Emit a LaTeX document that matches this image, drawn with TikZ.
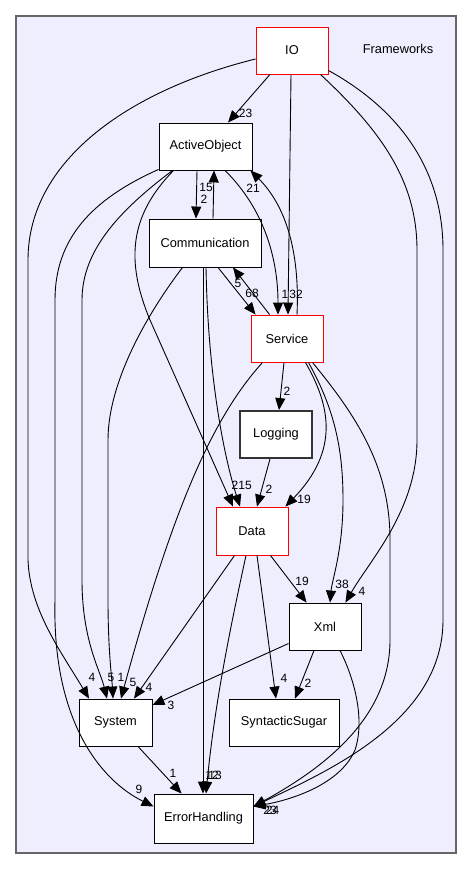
\documentclass[tikz,border=0pt]{standalone}
\usepackage{fontspec}
\setmainfont{Liberation Sans}
\usetikzlibrary{arrows.meta}
\definecolor{dirfill}{HTML}{EEEEFF}
\definecolor{dirline}{HTML}{666666}
\definecolor{dirred}{HTML}{FF0000}
\tikzset{
    dirbox/.style={draw=black,fill=white,line width=0.9pt,minimum width=72pt,minimum height=47pt,inner sep=0pt,font=\fontsize{12.8}{14}\selectfont},
    reddir/.style={dirbox,draw=dirred},
    dep/.style={line width=0.9pt,-{Triangle[length=12pt,width=10pt]}},
    cnt/.style={inner sep=0pt,font=\fontsize{12}{13}\selectfont},
}

\begin{document}
\begin{tikzpicture}[x=1pt,y=-1pt]
        \useasboundingbox[fill=white] (0,0) rectangle (472,869);
        \draw[dirline,fill=dirfill,line width=1.6pt] (16,16) rectangle (456,853);
        \node[inner sep=0pt,font=\fontsize{12.8}{14}\selectfont] (fw) at (398,49) {Frameworks};

        \node[reddir] (io) at (292,50.5) {IO};
        \node[dirbox,minimum width=93pt] (ao) at (205.5,146.5) {ActiveObject};
        \node[dirbox,minimum width=112pt,minimum height=48pt] (comm) at (205,243) {Communication};
        \node[reddir] (service) at (287,338.5) {Service};
        \node[dirbox,line width=1.8pt,draw=black!80] (logging) at (276,434.5) {Logging};
        \node[reddir,minimum height=48pt] (data) at (252,531) {Data};
        \node[dirbox] (xml) at (325,626.5) {Xml};
        \node[dirbox,minimum width=73pt] (system) at (115.5,722.5) {System};
        \node[dirbox,minimum width=110pt] (sugar) at (284,722.5) {SyntacticSugar};
        \node[dirbox,minimum width=99pt,minimum height=49pt] (eh) at (203.5,818.5) {ErrorHandling};

        \draw[dep] ([xshift=-22pt]io.south) -- ([xshift=22.5pt]ao.north);
        \draw[dep] ([yshift=-8.5pt]io.west) .. controls (130,90) and (28,160) .. (28,260) -- (28,560) .. controls (30,610) and (60,650) .. ([xshift=-26.5pt]system.north);
        \draw[dep] ([xshift=-1pt]io.south) -- ([xshift=1pt]service.north);
        \draw[dep] ([xshift=-8pt]io.south east) .. controls (380,130) and (417,180) .. (417,250) -- (417,440) .. controls (417,510) and (370,560) .. ([xshift=-16pt]xml.north east);
        \draw[dep] ([yshift=4pt]io.south east) .. controls (400,110) and (443,170) .. (443,250) -- (443,620) .. controls (443,720) and (330,770) .. ([yshift=12pt]eh.east);

        \draw[dep] ([xshift=-8.5pt]ao.south) -- ([xshift=-9pt]comm.north);
        \draw[dep] ([xshift=8pt]comm.north) -- ([xshift=8.5pt]ao.south);
        \draw[dep] ([yshift=1pt]ao.south west) .. controls (90,200) and (55,240) .. (55,300) -- (55,600) .. controls (52,720) and (100,780) .. ([yshift=12pt]eh.west);
        \draw[dep] ([xshift=14pt]ao.south west) .. controls (120,210) and (82,250) .. (82,300) -- (82,580) .. controls (82,640) and (100,670) .. ([xshift=-8.5pt]system.north);
        \draw[dep] ([xshift=15pt]ao.south west) .. controls (130,215) and (125,260) .. (150,320) -- ([xshift=-19pt]data.north);
        \draw[dep] ([xshift=19.5pt]ao.south) .. controls (265,210) and (278,260) .. ([xshift=-9pt]service.north);

        \draw[dep] ([xshift=34pt]comm.south west) .. controls (150,310) and (108,380) .. (108,440) -- (108,600) .. controls (108,650) and (112,680) .. ([xshift=-2.5pt]system.north);
        \draw[dep] ([xshift=-2pt]comm.south) -- ([xshift=-0.5pt]eh.north);
        \draw[dep] ([xshift=1pt]comm.south) .. controls (208,380) and (225,460) .. ([xshift=-12pt]data.north);
        \draw[dep] ([xshift=13pt]comm.south) -- ([xshift=5pt]service.north west);

        \draw[dep] ([xshift=19pt]service.north west) -- ([xshift=28pt]comm.south);
        \draw[dep] ([xshift=10pt]service.north) .. controls (300,250) and (285,205) .. ([xshift=-2pt]ao.south east);
        \draw[dep] ([xshift=-3pt]service.south) -- ([xshift=3pt]logging.north);
        \draw[dep] ([xshift=-18pt]service.south east) .. controls (330,405) and (340,450) .. ([xshift=-3pt]data.north east);
        \draw[dep] ([xshift=-15pt]service.south east) .. controls (335,410) and (343,450) .. (343,500) .. controls (343,550) and (332,580) .. ([xshift=5pt]xml.north);
        \draw[dep] ([xshift=-11pt]service.south east) .. controls (360,420) and (390,470) .. (390,540) -- (390,640) .. controls (390,720) and (320,770) .. ([yshift=12pt]eh.east);
        \draw[dep] ([xshift=12pt]service.south west) .. controls (215,415) and (175,500) .. ([xshift=5.5pt]system.north);

        \draw[dep] ([xshift=-6pt]logging.south) -- ([xshift=5pt]data.north);

        \draw[dep] ([xshift=19pt]data.south west) -- ([xshift=18.5pt]system.north);
        \draw[dep] ([xshift=-6pt]data.south) .. controls (232,620) and (215,700) .. ([xshift=2.5pt]eh.north);
        \draw[dep] ([xshift=5pt]data.south) -- ([xshift=-8pt]sugar.north);
        \draw[dep] ([xshift=-18pt]data.south east) -- ([xshift=18pt]xml.north west);

        \draw[dep] ([yshift=-17pt]xml.west) -- ([yshift=17.5pt]system.east);
        \draw[dep] ([xshift=-11pt]xml.south) -- ([xshift=11pt]sugar.north);
        \draw[dep] ([xshift=15pt]xml.south) .. controls (355,680) and (365,720) .. (355,750) .. controls (340,785) and (290,800) .. ([yshift=12pt]eh.east);

        \draw[dep] ([xshift=22.5pt]system.south) -- ([xshift=28pt]eh.north west);

        \node[cnt] (c-io-ao) at (245.5,113) {23};
        \node[cnt] (c-io-sys) at (92,677) {4};
        \node[cnt] (c-ao-svc) at (285,294) {1};
        \node[cnt] (c-io-svc) at (296,294) {32};
        \node[cnt] (c-io-xml) at (362,591) {4};
        \node[cnt] (c-x-eh1) at (270,810) {23};
        \node[cnt] (c-x-eh2) at (272.5,810) {24};
        \node[cnt] (c-ao-comm) at (204,199) {2};
        \node[cnt] (c-comm-ao) at (206,187) {15};
        \node[cnt] (c-svc-ao) at (253,188) {21};
        \node[cnt] (c-ao-eh) at (139,789) {9};
        \node[cnt] (c-ao-sys) at (111,677) {5};
        \node[cnt] (c-comm-sys) at (121,677) {1};
        \node[cnt] (c-svc-sys) at (133,682) {5};
        \node[cnt] (c-data-sys) at (149,687) {4};
        \node[cnt] (c-xml-sys) at (171,705) {3};
        \node[cnt] (c-ao-data) at (235,485) {2};
        \node[cnt] (c-comm-data) at (245,485) {15};
        \node[cnt] (c-comm-eh) at (212,775) {12};
        \node[cnt] (c-data-eh) at (215,775) {13};
        \node[cnt] (c-svc-comm) at (238,283) {5};
        \node[cnt] (c-comm-svc) at (252,293) {68};
        \node[cnt] (c-svc-log) at (287,391) {2};
        \node[cnt] (c-log-data) at (269,489) {2};
        \node[cnt] (c-svc-data) at (304,499) {19};
        \node[cnt] (c-svc-xml) at (342,584) {38};
        \node[cnt] (c-data-xml) at (302,581) {19};
        \node[cnt] (c-data-sugar) at (284,678) {4};
        \node[cnt] (c-xml-sugar) at (308,683) {2};
        \node[cnt] (c-sys-eh) at (173,773) {1};
    \end{tikzpicture}
\end{document}
